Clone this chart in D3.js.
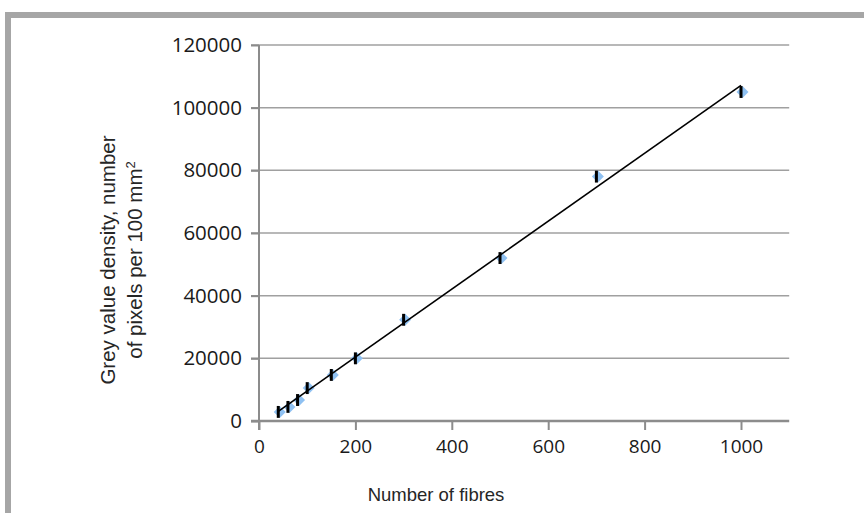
<!DOCTYPE html>
<html>
<head>
<meta charset="utf-8">
<script src="https://cdn.jsdelivr.net/npm/d3@7"></script>
<style>
  body { margin: 0; background: #fff; }
  svg { display: block; }
</style>
</head>
<body>
<div id="container"></div>
<script>
/* CONSTANTS AND DATA */
const width = 864, height = 513;

const fibres = [40, 60, 80, 100, 150, 200, 300, 500, 700, 1000];
const density = [2900, 4500, 6700, 10500, 14700, 20000, 32300, 52000, 78000, 105000];
const errHalf = [1900, 1900, 1900, 1900, 1900, 1900, 1900, 1900, 1900, 1900];
const xTicks = [0, 200, 400, 600, 800, 1000];
const yTicks = [0, 20000, 40000, 60000, 80000, 100000, 120000];

const points = fibres.map((f, i) => ({ x: f, y: density[i], e: errHalf[i] }));

/* SCALES */
const xScale = d3.scaleLinear().domain([0, 1100]).range([259, 789.2]);
const yScale = d3.scaleLinear().domain([0, 120000]).range([421, 45]);

const svg = d3.select("#container").append("svg")
  .attr("width", width).attr("height", height);

// frame (top and left edges visible)
svg.append("rect").attr("x", 8).attr("y", 15).attr("width", 870).attr("height", 520)
  .attr("fill", "none").attr("stroke", "#a6a6a6").attr("stroke-width", 6);

// gridlines
svg.append("g").selectAll("line").data(yTicks.filter(d => d > 0)).join("line")
  .attr("x1", 251).attr("x2", xScale(1100))
  .attr("y1", d => yScale(d)).attr("y2", d => yScale(d))
  .attr("stroke", "#a0a0a0").attr("stroke-width", 1.5);

// y axis
const yAxis = d3.axisLeft(yScale).tickValues(yTicks).tickSize(8).tickPadding(9)
  .tickFormat(d3.format("d"));
const yG = svg.append("g").attr("transform", `translate(${xScale(0)},0)`).call(yAxis);
yG.select(".domain").attr("stroke", "#8c8c8c").attr("stroke-width", 2)
  .attr("d", `M0,${yScale(120000)}V${yScale(0) + 9}`);
yG.selectAll(".tick line").attr("stroke", "#8c8c8c").attr("stroke-width", 2);
yG.selectAll(".tick text").attr("font-family", "'Open Sans', sans-serif")
  .attr("font-size", 20.5).attr("fill", "#1a1a1a");

// x axis
const xAxis = d3.axisBottom(xScale).tickValues(xTicks).tickSize(9).tickPadding(10)
  .tickFormat(d3.format("d"));
const xG = svg.append("g").attr("transform", `translate(0,${yScale(0)})`).call(xAxis);
xG.select(".domain").attr("stroke", "#8c8c8c").attr("stroke-width", 2.5)
  .attr("d", `M251,0H${xScale(1100)}`);
xG.selectAll(".tick line").attr("stroke", "#8c8c8c").attr("stroke-width", 2);
xG.selectAll(".tick text").attr("font-family", "'Open Sans', sans-serif")
  .attr("font-size", 19).attr("fill", "#1a1a1a");

// markers
svg.append("g").selectAll("path").data(points).join("path")
  .attr("d", d3.symbol().type(d3.symbolSquare).size(72))
  .attr("transform", d => `translate(${xScale(d.x) + 1.5},${yScale(d.y)}) rotate(45)`)
  .attr("fill", "#8fc1f2");

// error bars
svg.append("g").selectAll("line").data(points).join("line")
  .attr("x1", d => xScale(d.x)).attr("x2", d => xScale(d.x))
  .attr("y1", d => yScale(d.y - d.e)).attr("y2", d => yScale(d.y + d.e))
  .attr("stroke", "#000").attr("stroke-width", 3);

// linear trendline (least squares)
const mx = d3.mean(fibres), my = d3.mean(density);
const slope = d3.sum(fibres, (x, i) => (x - mx) * (density[i] - my)) /
              d3.sum(fibres, x => (x - mx) * (x - mx));
const icpt = my - slope * mx;
const xr = d3.extent(fibres);
svg.append("line")
  .attr("x1", xScale(xr[0])).attr("y1", yScale(slope * xr[0] + icpt))
  .attr("x2", xScale(xr[1])).attr("y2", yScale(slope * xr[1] + icpt))
  .attr("stroke", "#000").attr("stroke-width", 1.6);

// axis titles
svg.append("text").attr("x", 436).attr("y", 501).attr("text-anchor", "middle")
  .attr("font-family", "'Liberation Sans', Arial, sans-serif").attr("font-size", 18.5)
  .attr("fill", "#262626").text("Number of fibres");

const yt = svg.append("text").attr("transform", "translate(0,260) rotate(-90)")
  .attr("text-anchor", "middle")
  .attr("font-family", "'Liberation Sans', Arial, sans-serif").attr("font-size", 20.5)
  .attr("fill", "#262626");
yt.append("tspan").attr("x", 0).attr("y", 115).text("Grey value density, number");
const l2 = yt.append("tspan").attr("x", 0).attr("y", 142);
l2.append("tspan").text("of pixels per 100 mm");
l2.append("tspan").attr("dy", -7).attr("font-size", 13).text("2");
</script>
</body>
</html>
